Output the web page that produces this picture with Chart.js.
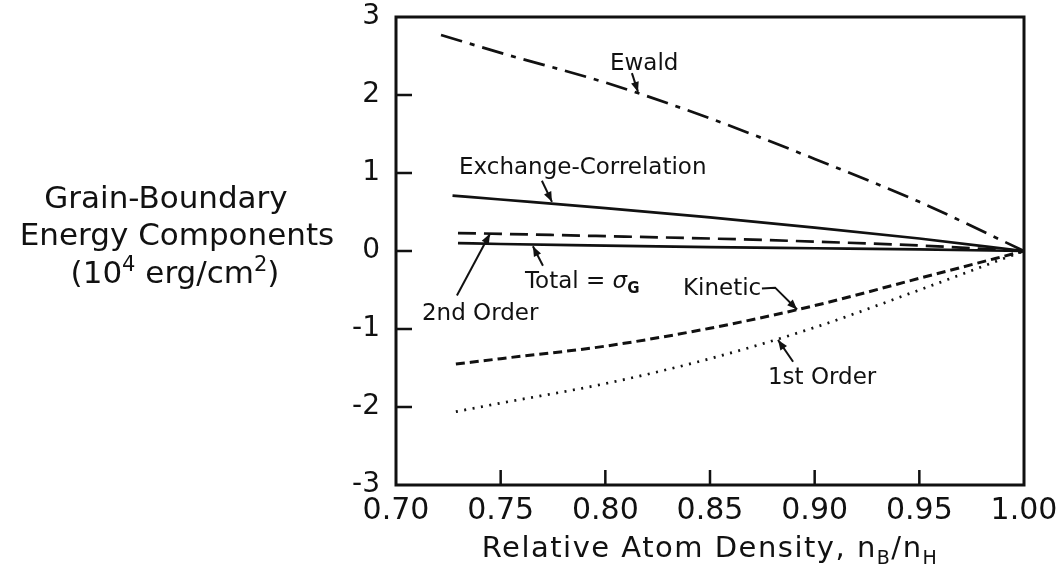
<!DOCTYPE html>
<html>
<head>
<meta charset="utf-8">
<script src="https://cdn.jsdelivr.net/npm/chart.js@4.4.0/dist/chart.umd.min.js"></script>
<style>
  html, body { margin: 0; padding: 0; background: #fff; }
</style>
</head>
<body>
<canvas id="myChart" width="1060" height="569"></canvas>
<script>
// values (x = n_B/n_H, y = 10^4 erg/cm^2)
const ewaldX = [0.7215, 0.75, 0.80, 0.85, 0.90, 0.95, 1.00];
const ewaldY = [2.77, 2.54, 2.16, 1.70, 1.18, 0.63, 0.00];
const xcX = [0.727, 0.75, 0.80, 0.85, 0.90, 0.95, 1.00];
const xcY = [0.71, 0.66, 0.55, 0.43, 0.30, 0.16, 0.00];
const secondX = [0.7296, 0.75, 0.80, 0.85, 0.90, 0.95, 1.00];
const secondY = [0.23, 0.22, 0.19, 0.16, 0.12, 0.07, 0.00];
const totalX = [0.7296, 0.75, 0.80, 0.85, 0.90, 0.95, 1.00];
const totalY = [0.10, 0.09, 0.07, 0.05, 0.035, 0.02, 0.00];
const kineticX = [0.7286, 0.75, 0.80, 0.85, 0.90, 0.95, 1.00];
const kineticY = [-1.45, -1.38, -1.22, -0.99, -0.70, -0.35, 0.00];
const firstX = [0.7286, 0.75, 0.80, 0.85, 0.90, 0.95, 1.00];
const firstY = [-2.06, -1.95, -1.70, -1.38, -0.98, -0.50, 0.00];

const xTickLabels = ['0.70', '0.75', '0.80', '0.85', '0.90', '0.95', '1.00'];
const yTickLabels = ['-3', '-2', '-1', '0', '1', '2', '3'];

// curve labels, placed in data units: [x, y] of text start, then arrow path
const notes = [
  { parts: [['Ewald']], at: [0.8022, 2.32], arrow: [[0.8127, 2.28], [0.8156, 2.04]] },
  { parts: [['Exchange-Correlation']], at: [0.7301, 0.99], arrow: [[0.7697, 0.90], [0.7745, 0.63]] },
  { parts: [['Total = '], ['\u03c3', 23, 0, 'italic '], ['G', 15, 5, 'bold ']], at: [0.7616, -0.47], arrow: [[0.7702, -0.19], [0.7654, 0.06]] },
  { parts: [['2nd Order']], at: [0.7124, -0.89], arrow: [[0.7291, -0.57], [0.7449, 0.22]] },
  { parts: [['Kinetic']], at: [0.8371, -0.57], arrow: [[0.8748, -0.48], [0.8811, -0.47], [0.8916, -0.75]] },
  { parts: [['1st Order']], at: [0.8777, -1.71], arrow: [[0.8897, -1.42], [0.8825, -1.14]] }
];

const ink = '#111';
const FAM = "'DejaVu Sans', sans-serif";
Chart.defaults.font.family = FAM;
Chart.defaults.color = ink;

function pts(xs, ys) {
  return xs.map((x, i) => ({ x: x, y: ys[i] }));
}

function drawRuns(ctx, parts, x, y, size, align) {
  const fontOf = p => (p[3] || '') + (p[1] || size) + 'px ' + FAM;
  let w = 0;
  parts.forEach(p => { ctx.font = fontOf(p); w += ctx.measureText(p[0]).width; });
  let cx = align === 'center' ? x - w / 2 : x;
  ctx.textAlign = 'left';
  ctx.textBaseline = 'alphabetic';
  parts.forEach(p => {
    ctx.font = fontOf(p);
    ctx.fillText(p[0], cx, y + (p[2] || 0));
    cx += ctx.measureText(p[0]).width;
  });
}

function drawArrow(ctx, path) {
  ctx.beginPath();
  path.forEach((p, i) => i ? ctx.lineTo(p[0], p[1]) : ctx.moveTo(p[0], p[1]));
  ctx.stroke();
  const [x1, y1] = path[path.length - 2], [x2, y2] = path[path.length - 1];
  const a = Math.atan2(y2 - y1, x2 - x1), L = 10, W = 4;
  ctx.beginPath();
  ctx.moveTo(x2, y2);
  ctx.lineTo(x2 - L * Math.cos(a) + W * Math.sin(a), y2 - L * Math.sin(a) - W * Math.cos(a));
  ctx.lineTo(x2 - L * Math.cos(a) - W * Math.sin(a), y2 - L * Math.sin(a) + W * Math.cos(a));
  ctx.closePath();
  ctx.fill();
}

const decor = {
  id: 'decor',
  afterDraw(chart) {
    const { ctx, chartArea: a, scales: { x, y } } = chart;
    ctx.save();
    ctx.strokeStyle = ink;
    ctx.fillStyle = ink;

    // frame + inward ticks
    ctx.lineWidth = 3;
    ctx.strokeRect(a.left, a.top, a.right - a.left, a.bottom - a.top);
    ctx.lineWidth = 2.5;
    ctx.beginPath();
    x.ticks.forEach(t => {
      if (t.value > x.min + 1e-6 && t.value < x.max - 1e-6) {
        const px = x.getPixelForValue(t.value);
        ctx.moveTo(px, a.bottom); ctx.lineTo(px, a.bottom - 15);
      }
    });
    y.ticks.forEach(t => {
      if (t.value > y.min && t.value < y.max) {
        const py = y.getPixelForValue(t.value);
        ctx.moveTo(a.left, py); ctx.lineTo(a.left + 16, py);
      }
    });
    ctx.stroke();

    // curve labels
    ctx.lineWidth = 2;
    notes.forEach(n => {
      drawRuns(ctx, n.parts, x.getPixelForValue(n.at[0]), y.getPixelForValue(n.at[1]), 23, 'left');
      drawArrow(ctx, n.arrow.map(p => [x.getPixelForValue(p[0]), y.getPixelForValue(p[1])]));
    });

    // y title (horizontal, three lines)
    drawRuns(ctx, [['Grain-Boundary']], 166, 208, 31, 'center');
    drawRuns(ctx, [['Energy Components']], 177, 245, 31, 'center');
    drawRuns(ctx, [['(10'], ['4', 21, -12], [' erg/cm'], ['2', 21, -12], [')']], 175, 283, 31, 'center');

    // x title with subscripts, loosely tracked like the original
    ctx.letterSpacing = '1.5px';
    drawRuns(ctx, [['Relative Atom Density, n'], ['B', 19, 7], ['/n'], ['H', 19, 7]],
      (a.left + a.right) / 2, 557, 29, 'center');
    ctx.letterSpacing = '0px';
    ctx.restore();
  }
};

const base = { borderColor: ink, borderWidth: 2.7, pointRadius: 0, fill: false, cubicInterpolationMode: 'monotone' };

new Chart(document.getElementById('myChart'), {
  type: 'line',
  data: {
    datasets: [
      Object.assign({}, base, { label: 'Ewald', data: pts(ewaldX, ewaldY), borderDash: [22, 8, 5, 8] }),
      Object.assign({}, base, { label: 'Exchange-Correlation', data: pts(xcX, xcY) }),
      Object.assign({}, base, { label: '2nd Order', data: pts(secondX, secondY), borderDash: [18, 8] }),
      Object.assign({}, base, { label: 'Total', data: pts(totalX, totalY) }),
      Object.assign({}, base, { label: 'Kinetic', data: pts(kineticX, kineticY), borderDash: [9, 5], borderWidth: 3 }),
      Object.assign({}, base, { label: '1st Order', data: pts(firstX, firstY), borderDash: [2, 6.5] })
    ]
  },
  options: {
    responsive: false,
    animation: false,
    devicePixelRatio: 1,
    layout: { padding: { top: 17, right: 36, left: 0, bottom: 0 } },
    plugins: { legend: { display: false }, tooltip: { enabled: false } },
    scales: {
      x: {
        type: 'linear',
        min: 0.70,
        max: 1.00,
        grid: { display: false, drawTicks: false },
        border: { display: false },
        ticks: {
          stepSize: 0.05,
          padding: 8,
          autoSkip: false,
          maxRotation: 0,
          font: { size: 30 },
          callback: (v, i) => xTickLabels[i]
        },
        afterFit: s => { s.height = 84; s.paddingLeft = 0; s.paddingRight = 0; }
      },
      y: {
        type: 'linear',
        min: -3,
        max: 3,
        grid: { display: false, drawTicks: false },
        border: { display: false },
        ticks: {
          stepSize: 1,
          padding: 16,
          font: { size: 28 },
          callback: (v, i) => yTickLabels[i]
        },
        afterFit: s => { s.width = 396; s.paddingTop = 0; s.paddingBottom = 0; }
      }
    }
  },
  plugins: [decor]
});
</script>
</body>
</html>
